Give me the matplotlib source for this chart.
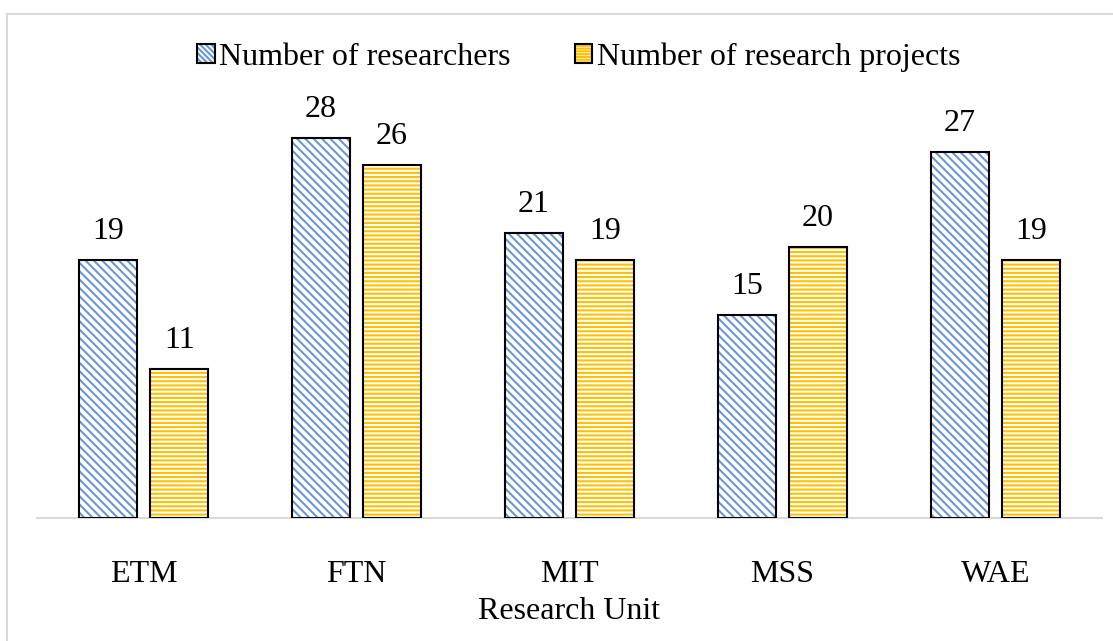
import matplotlib
matplotlib.use("Agg")
import matplotlib.pyplot as plt
import numpy as np
from matplotlib.patches import Patch
from matplotlib.lines import Line2D
from matplotlib.legend_handler import HandlerTuple

categories = ["ETM", "FTN", "MIT", "MSS", "WAE"]
researchers = [19, 28, 21, 15, 27]
projects = [11, 26, 19, 20, 19]
series_names = ["Number of researchers", "Number of research projects"]
x_label = "Research Unit"

plt.rcParams['font.family'] = ['Liberation Serif', 'DejaVu Serif']
plt.rcParams['hatch.linewidth'] = 1.5

fig = plt.figure(figsize=(11.13, 6.41), dpi=100)
ax = fig.add_axes([37/1113, 1-518/641, (1102-37)/1113, (518-111)/641])

x = np.arange(len(categories))
w = 0.27
off = 0.167
blue = "#6B96D6"
gold = "#FFC000"
FS = 23

ax.bar(x - off, researchers, w, color="white", edgecolor=blue, hatch="\\\\\\\\", linewidth=0, zorder=2)
ax.bar(x + off, projects, w, color="white", edgecolor=gold, hatch="----", linewidth=0, zorder=2)
ax.bar(x - off, researchers, w, fill=False, edgecolor="black", linewidth=1.5, zorder=3)
ax.bar(x + off, projects, w, fill=False, edgecolor="black", linewidth=1.5, zorder=3)

for xi, v in zip(x - off, researchers):
    ax.annotate(str(v), (xi, v), xytext=(0, 10), textcoords="offset points",
                ha="center", va="bottom", fontsize=FS)
for xi, v in zip(x + off, projects):
    ax.annotate(str(v), (xi, v), xytext=(0, 10), textcoords="offset points",
                ha="center", va="bottom", fontsize=FS)

ax.set_xlim(-0.5, len(categories) - 0.5)
ax.set_ylim(0, 30)
ax.set_yticks([])
for s in ["top", "right", "left"]:
    ax.spines[s].set_visible(False)
ax.spines["bottom"].set_color("#D9D9D9")
ax.spines["bottom"].set_linewidth(1.5)
ax.set_xticks(x)
ax.set_xticklabels(categories, fontsize=FS)
ax.tick_params(axis="x", length=0, pad=30)
ax.set_xlabel(x_label, fontsize=FS, labelpad=6)

h1 = (Patch(facecolor="white", edgecolor=blue, hatch="\\\\\\\\\\\\", linewidth=0),
      Patch(fill=False, edgecolor="black", linewidth=1.5))
h2 = (Patch(facecolor="white", edgecolor=gold, hatch="------", linewidth=0),
      Patch(fill=False, edgecolor="black", linewidth=1.5))
leg = fig.legend([h1, h2], series_names, loc="center", bbox_to_anchor=(0.520, 1-57/641),
                 ncol=2, frameon=False, fontsize=FS, handlelength=0.55, handleheight=0.55,
                 handletextpad=0.15, columnspacing=2.0,
                 handler_map={tuple: HandlerTuple(ndivide=1, pad=0)})

fig.add_artist(Line2D([7/1113, 1], [1-14/641, 1-14/641], color="#D9D9D9", linewidth=1.5, transform=fig.transFigure))
fig.add_artist(Line2D([7/1113, 7/1113], [0, 1-14/641], color="#D9D9D9", linewidth=1.5, transform=fig.transFigure))

fig.savefig("out.png", dpi=100)
